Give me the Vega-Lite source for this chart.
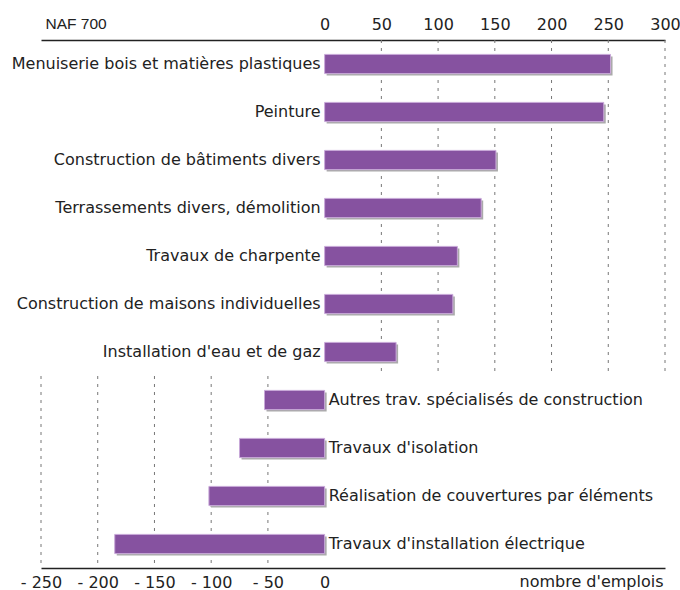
{
  "$schema": "https://vega.github.io/schema/vega-lite/v6.json",
  "autosize": {"type": "none"},
  "padding": {"left": 41, "top": 40, "right": 15, "bottom": 22},
  "width": 624,
  "height": 528,
  "background": "white",
  "config": {"view": {"stroke": null}, "font": "DejaVu Sans"},
  "datasets": {
    "emplois": [
      {"secteur": "Menuiserie bois et matières plastiques", "emplois": 252},
      {"secteur": "Peinture", "emplois": 246},
      {"secteur": "Construction de bâtiments divers", "emplois": 151},
      {"secteur": "Terrassements divers, démolition", "emplois": 138},
      {"secteur": "Travaux de charpente", "emplois": 117},
      {"secteur": "Construction de maisons individuelles", "emplois": 113},
      {"secteur": "Installation d'eau et de gaz", "emplois": 63},
      {"secteur": "Autres trav. spécialisés de construction", "emplois": -53},
      {"secteur": "Travaux d'isolation", "emplois": -75},
      {"secteur": "Réalisation de couvertures par éléments", "emplois": -102},
      {"secteur": "Travaux d'installation électrique", "emplois": -185}
    ],
    "grille": [
      {"valeur": 50, "debut": 0, "fin": 7},
      {"valeur": 100, "debut": 0, "fin": 7},
      {"valeur": 150, "debut": 0, "fin": 7},
      {"valeur": 200, "debut": 0, "fin": 7},
      {"valeur": 250, "debut": 0, "fin": 7},
      {"valeur": 300, "debut": 0, "fin": 7},
      {"valeur": -250, "debut": 7, "fin": 11},
      {"valeur": -200, "debut": 7, "fin": 11},
      {"valeur": -150, "debut": 7, "fin": 11},
      {"valeur": -100, "debut": 7, "fin": 11},
      {"valeur": -50, "debut": 7, "fin": 11}
    ]
  },
  "resolve": {"scale": {"y": "independent"}, "axis": {"x": "independent", "y": "independent"}},
  "layer": [
    {
      "data": {"name": "grille"},
      "mark": {"type": "rule", "color": "#777", "strokeWidth": 1, "strokeDash": [3, 5]},
      "encoding": {
        "x": {"field": "valeur", "type": "quantitative",
              "scale": {"domain": [-250, 300], "nice": false, "zero": true},
              "axis": {"orient": "top", "values": [0, 50, 100, 150, 200, 250, 300],
                       "grid": false, "ticks": false, "domain": true, "domainColor": "#222", "domainWidth": 1.5,
                       "labelFontSize": 16, "labelColor": "#222", "labelPadding": 8,
                       "labelFlush": false, "labelFont": "DejaVu Sans",
                       "title": "NAF 700", "titleFont": "Liberation Sans", "titleFontSize": 15.5,
                       "titleFontWeight": "normal", "titleColor": "#222",
                       "titleAnchor": "start", "titleAlign": "left", "titleX": 4, "titleY": -9,
                       "titleBaseline": "bottom", "titleAngle": 0}},
        "y": {"field": "debut", "type": "quantitative", "axis": null,
              "scale": {"domain": [0, 11], "reverse": true, "nice": false, "zero": false}},
        "y2": {"field": "fin"}
      }
    },
    {
      "data": {"name": "emplois"},
      "encoding": {
        "y": {"field": "secteur", "type": "nominal", "sort": null, "axis": null,
              "scale": {"paddingInner": 0.6, "paddingOuter": 0.3}}
      },
      "layer": [
        {
          "mark": {"type": "bar", "color": "#aaaaaa", "xOffset": 2, "yOffset": 2},
          "encoding": {
            "x": {"field": "emplois", "type": "quantitative",
                  "axis": {"orient": "bottom", "values": [-250, -200, -150, -100, -50, 0],
                           "labelExpr": "datum.value < 0 ? '- ' + abs(datum.value) : '0'",
                           "grid": false, "ticks": false, "domain": true, "domainColor": "#222", "domainWidth": 1.5,
                           "labelFontSize": 16, "labelColor": "#222", "labelPadding": 6,
                           "labelFlush": false, "labelFont": "DejaVu Sans",
                           "title": "nombre d'emplois", "titleFont": "DejaVu Sans", "titleFontSize": 16,
                           "titleFontWeight": "normal", "titleColor": "#222",
                           "titleAnchor": "end", "titleAlign": "right", "titleX": 622, "titleY": 5,
                           "titleBaseline": "top", "titleAngle": 0}}
          }
        },
        {
          "mark": {"type": "bar", "fill": "#8652a0", "stroke": "#c8a8d8", "strokeWidth": 1},
          "encoding": {"x": {"field": "emplois", "type": "quantitative"}}
        },
        {
          "transform": [{"filter": "datum.emplois > 0"}],
          "mark": {"type": "text", "align": "right", "baseline": "middle", "dx": -4, "fontSize": 16, "color": "#222"},
          "encoding": {"x": {"datum": 0, "type": "quantitative"}, "text": {"field": "secteur"}}
        },
        {
          "transform": [{"filter": "datum.emplois < 0"}],
          "mark": {"type": "text", "align": "left", "baseline": "middle", "dx": 4, "fontSize": 16, "color": "#222"},
          "encoding": {"x": {"datum": 0, "type": "quantitative"}, "text": {"field": "secteur"}}
        },
        {
          "mark": {"type": "rule", "color": "#111", "strokeWidth": 2},
          "encoding": {"x": {"datum": 0, "type": "quantitative"}}
        }
      ]
    }
  ]
}
